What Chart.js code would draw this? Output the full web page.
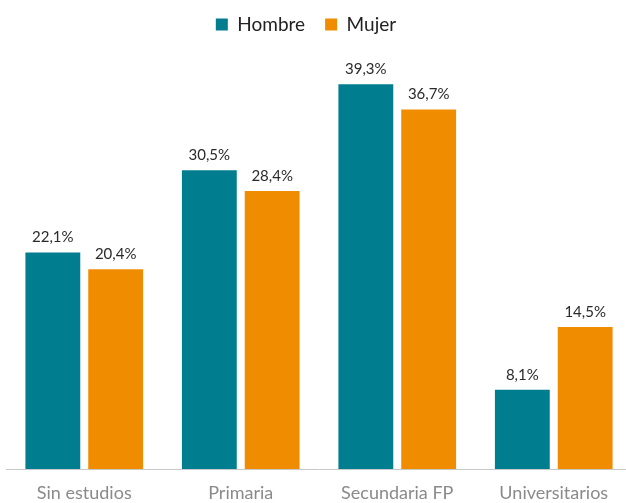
<!DOCTYPE html>
<html>
<head>
<meta charset="utf-8">
<script src="https://cdn.jsdelivr.net/npm/chart.js@4"></script>
<style>
  html, body { margin: 0; padding: 0; overflow: hidden; background: #fff; width: 626px; height: 503px; }
  canvas { display: block; margin-left: -20px; }
</style>
</head>
<body>
<canvas id="c" width="652" height="503"></canvas>
<script>
const categories = ['Sin estudios', 'Primaria', 'Secundaria FP', 'Universitarios'];
const hombre = [22.1, 30.5, 39.3, 8.1];
const mujer = [20.4, 28.4, 36.7, 14.5];
const seriesNames = ['Hombre', 'Mujer'];

const FONT = 'Lato, "Open Sans", sans-serif';

const valueLabels = {
  id: 'valueLabels',
  afterDatasetsDraw(chart) {
    const ctx = chart.ctx;
    ctx.save();
    ctx.font = '15px ' + FONT;
    ctx.fillStyle = '#2a2a2a';
    ctx.textAlign = 'center';
    ctx.textBaseline = 'middle';
    chart.data.datasets.forEach((ds, i) => {
      const meta = chart.getDatasetMeta(i);
      meta.data.forEach((bar, j) => {
        const v = ds.data[j];
        const txt = v.toFixed(1).replace('.', ',') + '%';
        ctx.fillText(txt, bar.x, bar.y - 15);
      });
    });
    ctx.restore();
  }
};

new Chart(document.getElementById('c'), {
  type: 'bar',
  data: {
    labels: categories,
    datasets: [
      { label: seriesNames[0], data: hombre, backgroundColor: '#007e8f', categoryPercentage: 0.803, barPercentage: 0.873 },
      { label: seriesNames[1], data: mujer, backgroundColor: '#f08c00', categoryPercentage: 0.803, barPercentage: 0.873 }
    ]
  },
  options: {
    responsive: false,
    animation: false,
    layout: { padding: { top: -5, left: 0, right: 0, bottom: 0 } },
    plugins: {
      legend: {
        position: 'top',
        labels: {
          boxWidth: 12, boxHeight: 12, padding: 20,
          color: '#222',
          font: { family: FONT, size: 19 }
        }
      },
      tooltip: { enabled: false }
    },
    scales: {
      x: {
        grid: { display: false, drawTicks: false },
        border: { display: true, color: '#c8c8c8', dash: [1, 2], width: 1 },
        ticks: { color: '#8a8a8a', padding: 13, font: { family: FONT, size: 18 } },
        afterFit(s) { s.height = 34; }
      },
      y: {
        min: 0, max: 43.4,
        display: true,
        grid: { display: false },
        border: { display: false },
        ticks: { display: false },
        afterFit(s) { s.width = 26; }
      }
    }
  },
  plugins: [valueLabels]
});
</script>
</body>
</html>
